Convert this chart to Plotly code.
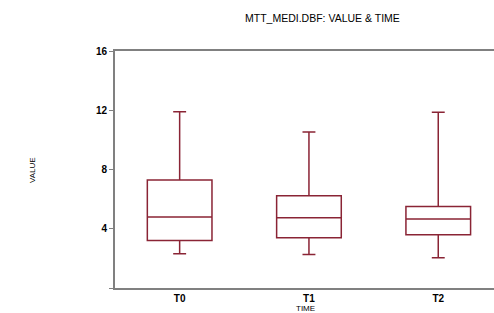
import plotly.graph_objects as go

categories = ["T0", "T1", "T2"]
lower = [2.32, 2.27, 2.05]
q1 = [3.21, 3.40, 3.60]
median = [4.79, 4.75, 4.66]
q3 = [7.29, 6.23, 5.51]
upper = [11.9, 10.53, 11.86]
ytick_vals = [0, 4, 8, 12, 16]
ytick_text = ["", "4", "8", "12", "16"]

line_color = "#8a2435"
axis_color = "#808080"
font_fam = "Liberation Sans, Arial, sans-serif"

W, H = 494, 313
L, T, Bpg, Rpg = 115, 51, 288, 494  # plot area in page pixels
ml, mt = L, T
mb = H - Bpg
mr = W - Rpg
PW, PH = W - ml - mr, H - mt - mb


def px(xp):
    return (xp - ml) / PW


def py(yp):
    return (H - yp - mb) / PH


fig = go.Figure()
fig.add_trace(go.Box(
    x=categories, q1=q1, median=median, q3=q3,
    lowerfence=lower, upperfence=upper,
    width=0.5, whiskerwidth=0.2,
    fillcolor="rgba(255,255,255,0)",
    line=dict(color=line_color, width=1.5),
    boxpoints=False, hoverinfo="skip",
))

fig.update_layout(
    width=W, height=H,
    margin=dict(l=ml, r=mr, t=mt, b=mb, autoexpand=False),
    paper_bgcolor="white", plot_bgcolor="white",
    showlegend=False,
    font=dict(family=font_fam, color="black"),
)
fig.update_xaxes(
    range=[-0.5, -0.5 + PW / 129.3], automargin=False,
    showline=True, linecolor=axis_color, linewidth=2, mirror=True,
    showgrid=False, zeroline=False,
    ticks="", tickfont=dict(size=10, family=font_fam, weight="bold"),
)
fig.update_yaxes(
    range=[0, 16], tickvals=ytick_vals, ticktext=ytick_text, automargin=False,
    showline=True, linecolor=axis_color, linewidth=2,
    showgrid=False, zeroline=False,
    ticks="outside", ticklen=4, tickcolor=axis_color,
    tickfont=dict(size=10, family=font_fam, weight="bold"),
)
fig.add_annotation(text="MTT_MEDI.DBF: VALUE & TIME", xref="paper", yref="paper",
                   x=px(322), y=py(18), xanchor="center", yanchor="middle",
                   showarrow=False, font=dict(size=10.5, family=font_fam, color="black"))
fig.add_annotation(text="VALUE", xref="paper", yref="paper",
                   x=px(32), y=py(170),
                   yanchor="middle", xanchor="center", showarrow=False, textangle=-90,
                   font=dict(size=8, family=font_fam, color="black"))
fig.add_annotation(text="TIME", xref="paper", yref="paper",
                   x=px(305), y=py(308),
                   yanchor="middle", xanchor="center", showarrow=False,
                   font=dict(size=8, family=font_fam, color="black"))

fig.write_html("out.html", config={"displayModeBar": False},
               post_script="document.body.style.margin='0';document.body.style.overflow='hidden';")
